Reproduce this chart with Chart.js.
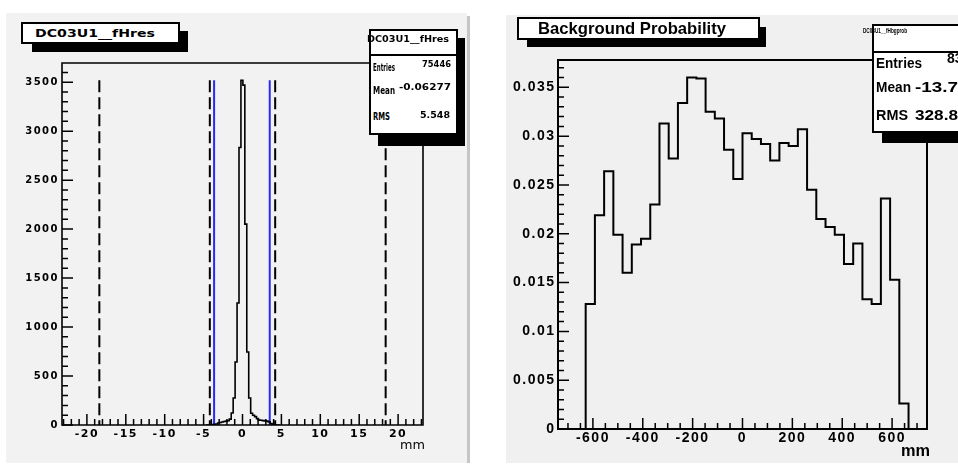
<!DOCTYPE html>
<html>
<head>
<meta charset="utf-8">
<script src="https://cdn.jsdelivr.net/npm/chart.js@4.4.1/dist/chart.umd.min.js"></script>
<style>
body{margin:0;width:958px;height:464px;overflow:hidden;background:#fff;position:relative}
.pad{position:absolute;background:#f2f2f2}
canvas{position:absolute;top:0;z-index:1}
.box{position:absolute;background:#fff;border:2px solid #000;box-sizing:border-box;z-index:3}
.shd{position:absolute;background:#000;z-index:2}
.t{position:absolute;white-space:nowrap;line-height:1;transform-origin:0 50%;z-index:4;color:#000}
.dv{font-family:"DejaVu Sans",sans-serif;font-weight:bold}
.lb{font-family:"Liberation Sans",Arial,sans-serif;font-weight:bold}
</style>
</head>
<body>
<div class="pad" style="left:6px;top:13px;width:461px;height:450px"></div>
<div class="pad" style="left:467px;top:16px;width:3px;height:447px;background:#c6c6c6"></div>
<div class="pad" style="left:506px;top:15px;width:452px;height:448px;background:#f0f0f0"></div>

<canvas id="cL" width="479" height="464" style="left:0"></canvas>
<canvas id="cR" width="479" height="464" style="left:479px"></canvas>

<!-- left pad: title + stats -->
<div class="shd" style="left:32px;top:31px;width:156px;height:21px"></div>
<div class="box" style="left:21px;top:22px;width:159px;height:22px"></div>
<div class="t dv" data-w="120" style="left:35px;top:28px;font-size:11px">DC03U1__fHres</div>

<div class="shd" style="left:378px;top:38px;width:87px;height:108px"></div>
<div class="box" style="left:369px;top:29px;width:89px;height:106px"></div>
<div class="box" style="left:369px;top:54px;width:89px;height:2px;border-width:1px 0 1px 0"></div>
<div class="t dv" data-w="82" style="left:367px;top:36px;font-size:8px">DC03U1__fHres</div>
<div class="t dv" data-w="22" style="left:373px;top:63px;font-size:10px">Entries</div>
<div class="t dv" data-w="29" style="left:422px;top:61px;font-size:8px">75446</div>
<div class="t dv" data-w="22" style="left:373px;top:86px;font-size:10px">Mean</div>
<div class="t dv" data-w="52" style="left:399px;top:84px;font-size:8px">-0.06277</div>
<div class="t dv" data-w="17" style="left:373px;top:112px;font-size:10px">RMS</div>
<div class="t dv" data-w="30" style="left:420px;top:112px;font-size:8px">5.548</div>
<div class="t" data-w="25" style="left:400px;top:439px;font-size:12px;font-family:'DejaVu Sans',sans-serif">mm</div>

<!-- right pad: title + stats -->
<div class="shd" style="left:527px;top:27px;width:239px;height:20px"></div>
<div class="box" style="left:517px;top:17px;width:243px;height:23px"></div>
<div class="t lb" data-w="188" style="left:538px;top:20px;font-size:17px">Background Probability</div>

<div class="shd" style="left:882px;top:34px;width:100px;height:109px"></div>
<div class="box" style="left:872px;top:24px;width:110px;height:109px"></div>
<div class="box" style="left:872px;top:51px;width:110px;height:2px;border-width:1px 0 1px 0"></div>
<div class="t lb" data-w="44" style="left:863px;top:27px;font-size:8px">DC03U1__fHbgprob</div>
<div class="t lb" data-w="46" style="left:876px;top:56px;font-size:14px">Entries</div>
<div class="t lb" style="left:947px;top:51px;font-size:14px">83</div>
<div class="t lb" data-w="35" style="left:876px;top:80px;font-size:14px">Mean</div>
<div class="t lb" data-w="43" style="left:915px;top:80px;font-size:14px">-13.7</div>
<div class="t lb" data-w="32" style="left:876px;top:108px;font-size:14px">RMS</div>
<div class="t lb" data-w="43" style="left:915px;top:108px;font-size:14px">328.8</div>
<div class="t lb" data-w="29" style="left:901px;top:443px;font-size:16px">mm</div>

<script>
// left: DC03U1 hit residuals, 0.25 mm bins starting at resX0
var resX0 = -4.7;
var resBin = 0.25;
var resCounts = [0,0,2,4,6,10,20,25,30,35,40,45,60,122,276,643,1245,2834,3520,3470,2051,745,276,120,100,85,65,50,48,45,42,40,32,15,5,2,0,0];
var resXTicks = [-20,-15,-10,-5,0,5,10,15,20];
var resYTicks = [0,500,1000,1500,2000,2500,3000,3500];
var resDashed = [-18.4,-4.2,4.2,18.4];
var resBlue = [-3.65,3.5];

// right: background probability, 40 bins of 37 mm from -740
var bgX0 = -740;
var bgBin = 37;
var bgProb = [0,0,0,0.0128,0.0219,0.0264,0.0199,0.0160,0.0189,0.0195,0.0230,0.0313,0.0277,0.0334,0.0360,0.0359,0.0325,0.0318,0.0286,0.0256,0.0303,0.0297,0.0292,0.0275,0.0293,0.0290,0.0307,0.0245,0.0215,0.0207,0.0199,0.0169,0.0190,0.0133,0.0128,0.0236,0.0153,0.0026,0,0];
var bgXTicks = [-600,-400,-200,0,200,400,600];
var bgYTicks = [0,0.005,0.01,0.015,0.02,0.025,0.03,0.035];

document.querySelectorAll('[data-w]').forEach(function(el){
	var w = el.getBoundingClientRect().width;
	el.style.transform = 'scaleX(' + (el.dataset.w / w) + ')';
});

function histPoints(x0, bw, vals){
	var pts = vals.map(function(v, i){ return {x: x0 + i*bw, y: v}; });
	pts.push({x: x0 + vals.length*bw, y: 0});
	return pts;
}

function vline(x, top, color, dash){
	return {data: [{x: x, y: top}, {x: x, y: 0}], borderColor: color, borderWidth: 2,
		borderDash: dash, pointRadius: 0, fill: false, tension: 0};
}

// ROOT style frame with ticks drawn inside the frame
var rootAxes = {
	id: 'rootAxes',
	beforeDraw: function(chart, args, o){ chart.ctx.letterSpacing = o.spacing; },
	afterDatasetsDraw: function(chart, args, o){
		var ctx = chart.ctx, a = chart.chartArea, xs = chart.scales.x, ys = chart.scales.y;
		ctx.save();
		ctx.strokeStyle = '#000';
		ctx.lineWidth = o.lw;
		ctx.beginPath();
		ctx.rect(a.left, a.top, a.right - a.left, a.bottom - a.top);
		ctx.stroke();
		ctx.lineWidth = 1.5;
		ctx.beginPath();
		function tx(v, len){ var p = xs.getPixelForValue(v); ctx.moveTo(p, a.bottom); ctx.lineTo(p, a.bottom - len); }
		function ty(v, len){ var p = ys.getPixelForValue(v); ctx.moveTo(a.left, p); ctx.lineTo(a.left + len, p); }
		for (var k = Math.ceil(xs.min / o.xMinor); k * o.xMinor <= xs.max; k++) tx(k * o.xMinor, o.minLen);
		for (var k = 0; k * o.yMinor <= ys.max; k++) ty(k * o.yMinor, o.minLen);
		o.xMajor.forEach(function(v){ tx(v, o.majLen); });
		o.yMajor.forEach(function(v){ ty(v, o.majLen); });
		ctx.stroke();
		ctx.restore();
	},
	afterDraw: function(chart){ chart.ctx.letterSpacing = '0px'; }
};

function axisOpts(min, max, ticks, size, font, pad, fmt){
	return {
		type: 'linear', min: min, max: max,
		afterFit: function(s){ if (s.axis === 'x') s.height = size; else s.width = size; },
		afterBuildTicks: function(s){ s.ticks = ticks.map(function(v){ return {value: v}; }); },
		grid: {display: false, drawTicks: false},
		border: {display: false},
		ticks: {padding: pad, color: '#000', font: font, maxRotation: 0, autoSkip: false, callback: fmt}
	};
}

var resTop = Math.max.apply(null, resCounts);
var resSets = [{data: histPoints(resX0, resBin, resCounts), stepped: 'before', borderColor: '#000',
	borderWidth: 1.6, pointRadius: 0, fill: false}];
resDashed.forEach(function(x){ resSets.push(vline(x, resTop, '#000', [12, 5])); });
resBlue.forEach(function(x){ resSets.push(vline(x, resTop, '#2a2af5', [])); });

var fontLy = {family: 'DejaVu Sans', size: 10, weight: 'bold'};
var fontLx = {family: 'DejaVu Sans', size: 11, weight: 'bold'};
new Chart(document.getElementById('cL'), {
	type: 'line',
	data: {datasets: resSets},
	options: {
		responsive: false, animation: false, events: [],
		layout: {padding: {left: 0, top: 63, right: 56, bottom: 0}},
		plugins: {legend: {display: false}, tooltip: {enabled: false},
			rootAxes: {spacing: '1.5px', lw: 1.6, xMinor: 1, yMinor: 100, xMajor: resXTicks, yMajor: resYTicks, majLen: 11, minLen: 6}},
		scales: {
			x: axisOpts(-23.2, 23.2, resXTicks, 39, fontLx, 3, function(v){ return String(v); }),
			y: axisOpts(0, resTop * 1.05, resYTicks, 62, fontLy, 3, function(v){ return String(v); })
		}
	},
	plugins: [rootAxes]
});

var bgTop = Math.max.apply(null, bgProb);
var fontR = {family: 'Liberation Sans', size: 14, weight: 'bold'};
new Chart(document.getElementById('cR'), {
	type: 'line',
	data: {datasets: [{data: histPoints(bgX0, bgBin, bgProb), stepped: 'before', borderColor: '#000',
		borderWidth: 2, pointRadius: 0, fill: false}]},
	options: {
		responsive: false, animation: false, events: [],
		layout: {padding: {left: 0, top: 60, right: 31, bottom: 0}},
		plugins: {legend: {display: false}, tooltip: {enabled: false},
			rootAxes: {spacing: '1.5px', lw: 2, xMinor: 50, yMinor: 0.001, xMajor: bgXTicks, yMajor: bgYTicks, majLen: 11, minLen: 6}},
		scales: {
			x: axisOpts(-740, 740, bgXTicks, 35, fontR, 1, function(v){ return String(v); }),
			y: axisOpts(0, bgTop * 1.05, bgYTicks, 79, fontR, 2.5, function(v){ return String(parseFloat(v.toFixed(4))); })
		}
	},
	plugins: [rootAxes]
});
</script>
</body>
</html>
